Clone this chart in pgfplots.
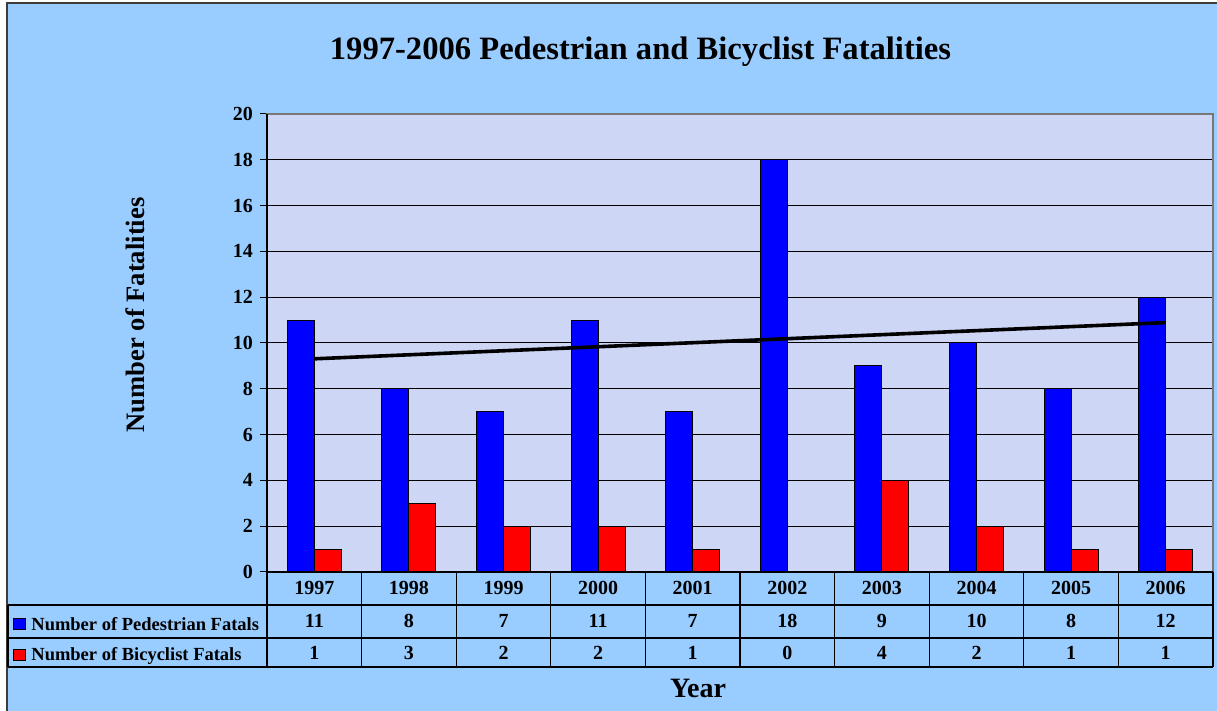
\documentclass[border=0pt]{standalone}
\usepackage{pgfplots}
\usepackage{pgfplotstable}
\pgfplotsset{compat=1.18}
\usepackage{fontspec}
\setmainfont{Liberation Serif}
\definecolor{bg}{RGB}{153,204,255}
\definecolor{plotbg}{RGB}{206,214,246}
\definecolor{framec}{RGB}{60,60,60}
\definecolor{bordc}{RGB}{120,120,120}

\pgfplotstableread{
x year ped bike
0 1997 11 1
1 1998 8 3
2 1999 7 2
3 2000 11 2
4 2001 7 1
5 2002 18 0
6 2003 9 4
7 2004 10 2
8 2005 8 1
9 2006 12 1
}\data

\begin{document}
\begin{tikzpicture}[x=0.5pt,y=0.5pt]
\useasboundingbox (0,0) rectangle (1217,711);
\fill[white] (0,0) rectangle (1217,711);
\draw[framec, line width=1pt, fill=bg] (7,-10) rectangle (1230,708);

\begin{axis}[
  at={(133.5pt,69.5pt)}, anchor=south west,
  scale only axis, width=473pt, height=229pt,
  xmin=-0.5, xmax=9.5, ymin=0, ymax=20,
  ytick={0,2,...,20}, xtick=\empty,
  ytick pos=left, tick align=outside, major tick length=3.5pt,
  ytick style={black, line width=0.5pt},
  ymajorgrids, grid style={black, line width=0.5pt},
  axis background/.style={fill=plotbg},
  axis line style={draw=bordc, line width=0.6pt},
  clip=false,
  /pgf/number format/assume math mode=true,
  yticklabel style={font=\fontsize{10}{12}\selectfont\bfseries, text=black},
]
\addplot[ybar, bar width=13.5pt, bar shift=-6.75pt, fill=blue, draw=black, line width=0.5pt] table[x=x,y=ped]{\data};
\addplot[ybar, bar width=13.5pt, bar shift=6.75pt, fill=red, draw=black, line width=0.5pt] table[x=x,y=bike]{\data};
\addplot[black, line width=1.8pt, mark=none] table[x=x, y={create col/linear regression={y=ped}}]{\data};

\addplot[draw=none, mark=none, nodes near coords, point meta=explicit symbolic,
  nodes near coords style={anchor=base, font=\fontsize{10}{12}\selectfont\bfseries, text=black, inner sep=0pt}]
  table[x=x, y expr=-1.0, meta=year]{\data};
\addplot[draw=none, mark=none, nodes near coords, point meta=explicit symbolic,
  nodes near coords style={anchor=base, font=\fontsize{10}{12}\selectfont\bfseries, text=black, inner sep=0pt}]
  table[x=x, y expr=-2.445, meta=ped]{\data};
\addplot[draw=none, mark=none, nodes near coords, point meta=explicit symbolic,
  nodes near coords style={anchor=base, font=\fontsize{10}{12}\selectfont\bfseries, text=black, inner sep=0pt}]
  table[x=x, y expr=-3.843, meta=bike]{\data};
\end{axis}

% left axis and bottom line in black
\draw[black, line width=0.6pt] (267,139) -- (267,597);
\draw[black, line width=0.6pt] (267,139) -- (1213,139);
% table grid
\foreach \y in {106,73,44} \draw[black, line width=0.6pt] (8,\y) -- (1213,\y);
\draw[black, line width=0.6pt] (8,106) -- (8,44);
\foreach \i in {0,...,10} \draw[black, line width=0.6pt] ({267+94.6*\i},139) -- ({267+94.6*\i},44);

% legend keys
\draw[black, line width=0.5pt, fill=blue] (13,81) rectangle (25,92);
\draw[black, line width=0.5pt, fill=red] (13,50) rectangle (25,61);
\node[anchor=base west, inner sep=0pt, font=\fontsize{9.25}{11}\selectfont\bfseries] at (31,80) {Number of Pedestrian Fatals};
\node[anchor=base west, inner sep=0pt, font=\fontsize{9.25}{11}\selectfont\bfseries] at (31,50) {Number of Bicyclist Fatals};

% titles
\node[anchor=base, inner sep=0pt, font=\fontsize{16.3}{19}\selectfont\bfseries] at (640.5,651) {1997-2006 Pedestrian and Bicyclist Fatalities};
\node[anchor=base, inner sep=0pt, font=\fontsize{14}{17}\selectfont\bfseries] at (698,13) {Year};
\node[rotate=90, inner sep=0pt, font=\fontsize{13.3}{16}\selectfont\bfseries] at (135,396) {Number of Fatalities};
\end{tikzpicture}
\end{document}
